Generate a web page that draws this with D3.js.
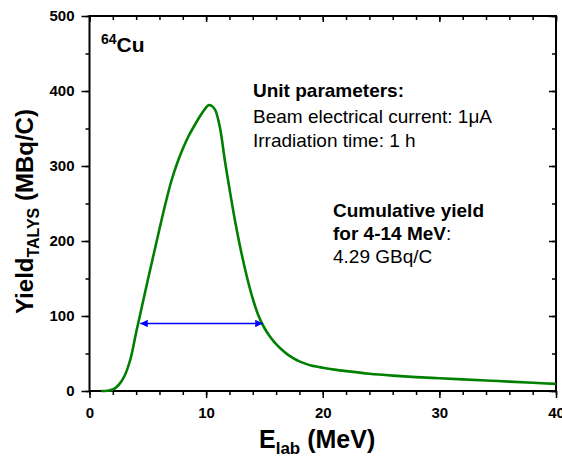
<!DOCTYPE html>
<html>
<head>
<meta charset="utf-8">
<script src="https://cdn.jsdelivr.net/npm/d3@7"></script>
<style>
  body { margin: 0; background: #fff; }
  svg text { font-family: "Liberation Sans", Arial, sans-serif; }
</style>
</head>
<body>
<div id="chart"></div>
<script>
// Energy (MeV) and yield (MBq/C)
const energy = [1.0, 1.5, 2.0, 2.5, 3.0, 3.5, 4.0, 4.5, 5.0, 5.5, 6.0, 6.5, 7.0, 7.5, 8.0, 8.5, 9.0, 9.5, 9.9, 10.2, 10.5, 10.8, 11.2, 11.6, 12.0, 12.5, 13.0, 13.5, 14.0, 14.5, 15.0, 15.5, 16.0, 16.5, 17.0, 17.5, 18.0, 18.5, 19.0, 20.0, 21.0, 22.0, 24.0, 26.0, 28.0, 30.0, 32.0, 34.0, 36.0, 38.0, 40.0];
const yieldTalys = [0, 0.3, 2, 8, 20, 42, 78, 113, 148, 182, 216, 249, 279, 303, 323, 340, 354, 367, 376, 381, 380, 374, 350, 308, 270, 225, 186, 152, 123, 100, 84, 72, 62.5, 55, 48.5, 43.5, 39.5, 36.5, 34, 31, 28.5, 26.5, 23, 20.5, 18.5, 17, 15.5, 14, 12.5, 11, 9.5];

const xTicks = [0, 10, 20, 30, 40];
const yTicks = [0, 100, 200, 300, 400, 500];
const arrowRange = [4.35, 14.85];
const arrowLevel = 90;

const margin = { top: 16, right: 6, bottom: 67, left: 89.5 },
    width = 562 - margin.left - margin.right,
    height = 458 - margin.top - margin.bottom;

const svg = d3.select("#chart")
    .append("svg")
    .attr("width", 562)
    .attr("height", 458);

const g = svg.append("g")
    .attr("transform", `translate(${margin.left}, ${margin.top})`);

const x = d3.scaleLinear().domain([0, 40]).range([0, width]);
const y = d3.scaleLinear().domain([0, 500]).range([height, 0]);

// minor ticks first (short), then major ticks with labels
function minor(axis, vals, size) {
    return axis.tickValues(vals).tickSize(size).tickFormat("");
}
const xMinor = d3.range(0, 41, 2);
const yMinor = d3.range(0, 501, 50);

g.append("g").attr("class", "axis").attr("transform", `translate(0, ${height})`)
    .call(minor(d3.axisBottom(x), xMinor, 4));
g.append("g").attr("class", "axis").attr("transform", `translate(0, ${height})`)
    .call(d3.axisBottom(x).tickValues(xTicks).tickSize(7).tickPadding(9));

g.append("g").attr("class", "axis")
    .call(minor(d3.axisLeft(y), yMinor, 4));
g.append("g").attr("class", "axis")
    .call(d3.axisLeft(y).tickValues(yTicks).tickSize(8).tickPadding(7));

// top and right axes with inward ticks
g.append("g").attr("class", "axis")
    .call(minor(d3.axisBottom(x), xMinor, 4));
g.append("g").attr("class", "axis")
    .call(minor(d3.axisBottom(x), xTicks, 6));
g.append("g").attr("class", "axis").attr("transform", `translate(${width}, 0)`)
    .call(minor(d3.axisLeft(y), yMinor, 4));
g.append("g").attr("class", "axis").attr("transform", `translate(${width}, 0)`)
    .call(minor(d3.axisLeft(y), yTicks, 7));

g.selectAll(".axis .domain").remove();
g.selectAll(".axis line").attr("stroke", "#000").attr("stroke-width", 1.5);
g.selectAll(".axis text")
    .attr("fill", "#000")
    .style("font-size", "15px")
    .style("font-weight", "bold");

// frame
g.append("rect")
    .attr("width", width)
    .attr("height", height)
    .attr("fill", "none")
    .attr("stroke", "#000")
    .attr("stroke-width", 2);

// yield curve
const data = energy.map((e, i) => ({ e: e, v: yieldTalys[i] }));
g.append("path")
    .datum(data)
    .attr("fill", "none")
    .attr("stroke", "#008000")
    .attr("stroke-width", 2.6)
    .attr("d", d3.line().x(d => x(d.e)).y(d => y(d.v)).curve(d3.curveCatmullRom.alpha(0.5)));

// double arrow
const defs = svg.append("defs");
defs.append("marker")
    .attr("id", "head")
    .attr("viewBox", "0 0 10 10")
    .attr("refX", 10).attr("refY", 5)
    .attr("markerWidth", 6).attr("markerHeight", 5)
    .attr("markerUnits", "strokeWidth")
    .attr("orient", "auto-start-reverse")
    .append("path")
    .attr("d", "M0,0 L10,5 L0,10 Z")
    .attr("fill", "#0000ff");

g.append("line")
    .attr("x1", x(arrowRange[0])).attr("x2", x(arrowRange[1]))
    .attr("y1", y(arrowLevel)).attr("y2", y(arrowLevel))
    .attr("stroke", "#0000ff")
    .attr("stroke-width", 1.5)
    .attr("marker-start", "url(#head)")
    .attr("marker-end", "url(#head)");

// annotations
const iso = svg.append("text").attr("x", 101).attr("y", 52)
    .style("font-weight", "bold").style("font-size", "21px");
iso.append("tspan").text("64").style("font-size", "14px").attr("dy", -8);
iso.append("tspan").text("Cu").attr("dy", 8);

svg.append("text").attr("x", 253).attr("y", 97)
    .style("font-weight", "bold").style("font-size", "19px")
    .text("Unit parameters:");
svg.append("text").attr("x", 253).attr("y", 123)
    .style("font-size", "19px")
    .text("Beam electrical current: 1\u03bcA");
svg.append("text").attr("x", 253).attr("y", 147)
    .style("font-size", "19px")
    .text("Irradiation time: 1 h");

svg.append("text").attr("x", 333).attr("y", 217)
    .style("font-weight", "bold").style("font-size", "19px")
    .text("Cumulative yield");
const forText = svg.append("text").attr("x", 333).attr("y", 240)
    .style("font-size", "19px");
forText.append("tspan").style("font-weight", "bold").text("for 4-14 MeV");
forText.append("tspan").text(":");
svg.append("text").attr("x", 333).attr("y", 263)
    .style("font-size", "19px")
    .text("4.29 GBq/C");

// axis titles
const xt = svg.append("text")
    .attr("x", 259).attr("y", 448)
    .style("font-weight", "bold").style("font-size", "25px");
xt.append("tspan").text("E");
xt.append("tspan").text("lab").style("font-size", "17px").attr("dy", 6);
xt.append("tspan").text(" (MeV)").attr("dy", -6);

const yt = svg.append("text")
    .attr("transform", "translate(33, 314) rotate(-90)")
    .style("font-weight", "bold").style("font-size", "24px");
yt.append("tspan").text("Yield");
yt.append("tspan").text("TALYS").style("font-size", "16px").attr("dy", 6);
yt.append("tspan").text(" (MBq/C)").attr("dy", -6);
</script>
</body>
</html>
